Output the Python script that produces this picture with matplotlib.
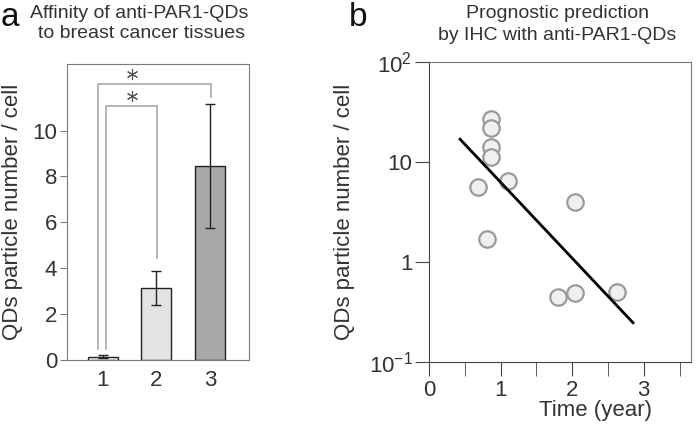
import numpy as np
import matplotlib
matplotlib.use("Agg")
import matplotlib.pyplot as plt

plt.rcParams['font.family'] = ['Liberation Sans', 'DejaVu Sans']
plt.rcParams['mathtext.fontset'] = 'custom'
plt.rcParams['mathtext.rm'] = 'Liberation Sans'
plt.rcParams['mathtext.it'] = 'Liberation Sans'

txt = '#333333'
spine_c = '#7a7a7a'

# panel a data
groups = [1, 2, 3]
means = [0.15, 3.15, 8.45]
errs = [0.06, 0.75, 2.7]
bar_colors = ['#f2f2f2', '#e3e3e3', '#a9a9a9']

# panel b data
time_yr = [0.87, 0.87, 0.87, 0.87, 0.685, 1.10, 0.815, 2.04, 1.80, 2.04, 2.625]
qds = [26.9, 21.7, 14.1, 11.3, 5.6, 6.4, 1.71, 4.0, 0.45, 0.49, 0.50]
fit_x = [0.434, 2.85]
fit_y = [16.9, 0.247]

fig = plt.figure(figsize=(6.97, 4.25), dpi=100)

# ---- panel a
ax1 = fig.add_axes([67/697, 65/425, 182/697, 296/425])
ax1.bar(groups, means, width=0.56, color=bar_colors, edgecolor='#222222', linewidth=1.0)
ax1.errorbar(groups, means, yerr=errs, fmt='none', ecolor='#222222', elinewidth=1.0, capsize=3.5, capthick=1.0)
ax1.set_xlim(0.33, 3.73)
ax1.set_ylim(0, 12.9)
ax1.set_yticks([0, 2, 4, 6, 8, 10])
ax1.set_xticks(groups)
ax1.tick_params(axis='y', direction='out', length=5, color=spine_c, labelsize=16, labelcolor=txt, pad=2)
ax1.tick_params(axis='x', length=0, labelsize=16, labelcolor=txt, pad=7)
for s in ax1.spines.values():
    s.set_color(spine_c)
ax1.set_ylabel('QDs particle number / cell', fontsize=16, color=txt)
ax1.yaxis.set_label_coords(-0.242, 0.5)

# significance brackets
gc = '#a8a8a8'
ax1.plot([0.91, 0.91, 3.02, 3.02], [0.5, 12.05, 12.05, 11.45], color=gc, lw=1.2)
ax1.plot([1.06, 1.06, 2.02, 2.02], [0.5, 11.05, 11.05, 4.45], color=gc, lw=1.2)
ax1.plot([1.55, 1.55], [12.45, 11.5], linestyle='none', marker=(6, 2, 0),
         markersize=8, markeredgewidth=0.8, color='#555555')

fig.text(1/697, 1 - 17/425, 'a', fontsize=24, color='#111111', va='center', ha='left')
fig.text(139/697, 1 - 13/425, 'Affinity of anti-PAR1-QDs', fontsize=14, color=txt, ha='center', va='center')
fig.text(142/697, 1 - 34/425, 'to breast cancer tissues', fontsize=14, color=txt, ha='center', va='center')

# ---- panel b
ax2 = fig.add_axes([429/697, 63/425, 262/697, 300/425])
ax2.scatter(time_yr, qds, s=140, facecolor='#f0f0f0', edgecolor='#9a9a9a', linewidth=1.6, zorder=3)
ax2.plot(fit_x, fit_y, color='black', lw=2, zorder=4)
ax2.set_yscale('log')
ax2.set_ylim(0.1, 100)
ax2.set_xlim(0, 3.66)
ax2.set_yticks([0.1, 1, 10, 100])
ax2.set_yticklabels([r'$10^{-1}$', '1', '10', r'$10^{2}$'])
ax2.yaxis.set_minor_locator(matplotlib.ticker.NullLocator())
ax2.set_xticks([0, 1, 2, 3])
ax2.set_xticks([0.5, 1.5, 2.5, 3.5], minor=True)
ax2.tick_params(axis='both', which='both', direction='out', length=10, color='#444444', labelsize=16, labelcolor=txt)
ax2.tick_params(axis='y', pad=2)
ax2.tick_params(axis='x', pad=3)
for s in ax2.spines.values():
    s.set_color(spine_c)
ax2.spines['bottom'].set_color('#444444')
ax2.spines['left'].set_color('#444444')
ax2.set_ylabel('QDs particle number / cell', fontsize=16, color=txt)
ax2.yaxis.set_label_coords(-0.282, 0.5)
ax2.set_xlabel('Time (year)', fontsize=16, color=txt)
ax2.xaxis.set_label_coords(0.635, -0.128)

fig.text(358/697, 1 - 17/425, 'b', fontsize=24, color='#111111', va='center', ha='center')
fig.text(558/697, 1 - 13/425, 'Prognostic prediction', fontsize=14, color=txt, ha='center', va='center')
fig.text(557/697, 1 - 35/425, 'by IHC with anti-PAR1-QDs', fontsize=14, color=txt, ha='center', va='center')

fig.savefig('out.png', dpi=100)
